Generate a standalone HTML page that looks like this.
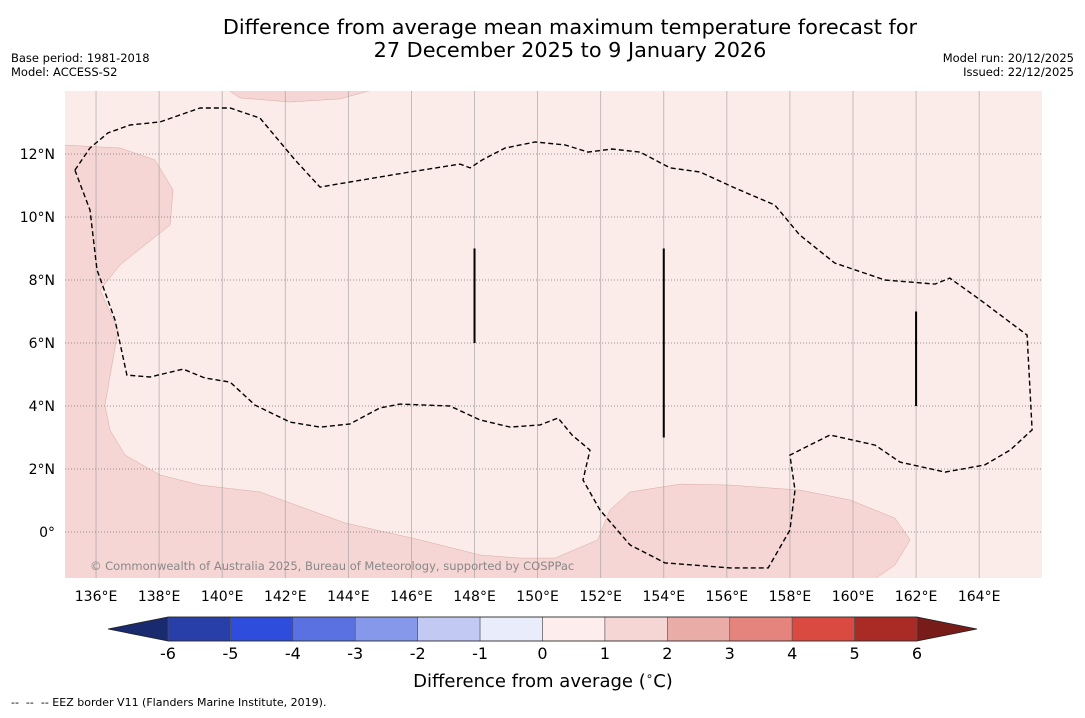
<!DOCTYPE html>
<html><head><meta charset="utf-8">
<style>
html,body{margin:0;padding:0;background:#fff;}
body{width:1085px;height:713px;overflow:hidden;font-family:"Liberation Sans","DejaVu Sans",sans-serif;}
svg text{font-family:"DejaVu Sans","Liberation Sans",sans-serif;}
</style></head>
<body>
<svg id="chart" width="1085" height="713" viewBox="0 0 1085 713" xmlns="http://www.w3.org/2000/svg">
<text x="570" y="34" font-size="20.8" text-anchor="middle" fill="#000">Difference from average mean maximum temperature forecast for</text>
<text x="570" y="57" font-size="20.8" text-anchor="middle" fill="#000">27 December 2025 to 9 January 2026</text>
<text x="11" y="62" font-size="11.5">Base period: 1981-2018</text>
<text x="11" y="76" font-size="11.5">Model: ACCESS-S2</text>
<text x="1074" y="62" font-size="11.5" text-anchor="end">Model run: 20/12/2025</text>
<text x="1074" y="76" font-size="11.5" text-anchor="end">Issued: 22/12/2025</text>
<defs><clipPath id="mapclip"><rect x="65" y="91" width="977" height="487"/></clipPath></defs>
<g id="map" clip-path="url(#mapclip)"></g>
<g id="axes"></g>
<g id="cbar"></g>
<text x="543" y="687" font-size="18" text-anchor="middle">Difference from average (<tspan font-size="12" dy="-7">∘</tspan><tspan dy="7">C)</tspan></text>
<text x="11" y="706" font-size="11" xml:space="preserve">--  --  -- EEZ border V11 (Flanders Marine Institute, 2019).</text>
</svg>
<script>
const lonTicks=[136,138,140,142,144,146,148,150,152,154,156,158,160,162,164];
const latTicks=[12,10,8,6,4,2,0];
const contourLon=[135.33,135.81,136.03,136.6,136.98,137.71,138.76,139.45,140.25,141.04,142.15,143.1,144.05,145.0,145.64,147.22,148.17,149.13,150.08,150.65,151.09,151.66,151.44,151.98,152.93,154.04,156.1,157.31,158.0,158.16,158.0,159.27,160.7,161.49,162.92,164.18,164.98,165.68,165.52,164.03,163.07,162.6,161.01,159.42,158.31,157.52,156.26,155.15,154.2,153.25,152.36,151.6,150.87,149.92,148.97,148.24,147.86,147.54,145.95,144.05,143.1,142.31,141.2,140.25,139.3,138.03,137.08,136.38,135.81,135.33];
const contourLat=[11.49,10.22,8.32,6.73,4.98,4.92,5.17,4.89,4.76,4.03,3.49,3.33,3.43,3.94,4.06,4.0,3.56,3.33,3.4,3.62,3.08,2.6,1.65,0.7,-0.41,-0.98,-1.14,-1.14,0.06,1.33,2.44,3.08,2.76,2.22,1.9,2.13,2.6,3.24,6.25,7.37,8.06,7.87,8.0,8.54,9.43,10.38,10.92,11.43,11.56,12.06,12.16,12.06,12.29,12.38,12.19,11.81,11.56,11.68,11.43,11.11,10.95,11.81,13.14,13.46,13.46,13.02,12.92,12.67,12.19,11.49];
const shadeLon=[134.86,136.76,137.87,138.44,138.35,137.55,136.76,136.13,136.7,136.28,136.44,136.92,138.03,139.3,141.2,143.89,146.27,148.17,149.44,150.55,151.91,152.29,152.93,154.52,156.1,158.32,159.9,161.33,161.81,161.33,160.54,134.86];
const shadeLat=[12.29,12.19,11.81,10.86,9.75,9.11,8.48,7.68,6.41,4.03,3.24,2.44,1.81,1.49,1.27,0.29,-0.25,-0.73,-0.83,-0.83,-0.25,0.7,1.27,1.52,1.49,1.33,1.02,0.44,-0.25,-1.05,-1.6,-1.6];
const blobLon=[140.09,140.56,142.15,143.73,145.0,145.0,140.09];
const blobLat=[14.1,13.78,13.65,13.75,14.1,14.2,14.2];
const barLon=[148,154,162];
const barLatTop=[9,9,7];
const barLatBot=[6,3,4];
const cbarLevels=[-6,-5,-4,-3,-2,-1,0,1,2,3,4,5,6];
const cbarColors=["#283ea8","#2e4ddd","#5a72e1","#8598ea","#c2c9f3","#e9ecfa","#fdeeed","#f5d6d4","#eaaca6","#e5847c","#da4a40","#aa2b26"];

const NS="http://www.w3.org/2000/svg";
const x0=64.5,pxLon=31.54,y0=91,pxLat=31.5;
function xs(lon){return x0+(lon-135)*pxLon;}
function ys(lat){return y0+(14-lat)*pxLat;}
function mk(t,a,p){const e=document.createElementNS(NS,t);for(const k in a)e.setAttribute(k,a[k]);p.appendChild(e);return e;}
function pts(lo,la){return lo.map((v,i)=>xs(v).toFixed(1)+","+ys(la[i]).toFixed(1)).join(" ");}
const map=document.getElementById("map"),axes=document.getElementById("axes"),cb=document.getElementById("cbar");

let bg=mk("rect",{x:65,y:91,width:977,height:487,fill:"#fbebe9"},map);


let sh=mk("polygon",{points:pts(shadeLon,shadeLat),fill:"#f5d6d4",stroke:"#d9a9a5","stroke-width":0.5},map);


let bl=mk("polygon",{points:pts(blobLon,blobLat),fill:"#f5d6d4",stroke:"#d9a9a5","stroke-width":0.5},map);



lonTicks.forEach(l=>{
  let g=mk("line",{x1:xs(l),x2:xs(l),y1:91,y2:578,stroke:"#999","stroke-width":0.8,"stroke-opacity":0.7},map);
  
  
});
latTicks.forEach(l=>{
  let g=mk("line",{x1:65,x2:1042,y1:ys(l),y2:ys(l),stroke:"#777","stroke-width":0.8,"stroke-dasharray":"1,2"},map);
  
  
});
let ct=mk("polyline",{points:pts(contourLon,contourLat),fill:"none",stroke:"#000","stroke-width":1.4,"stroke-dasharray":"5,3"},map);


barLon.forEach((l,i)=>{
  let b=mk("line",{x1:xs(l),x2:xs(l),y1:ys(barLatTop[i]),y2:ys(barLatBot[i]),stroke:"#000","stroke-width":2},map);
  
  
});
let cp=mk("text",{x:90,y:570,"font-size":11.5,fill:"#888"},map);
cp.textContent="© Commonwealth of Australia 2025, Bureau of Meteorology, supported by COSPPac";



lonTicks.forEach(l=>{
  let t=mk("text",{x:xs(l),y:601,"font-size":14,"text-anchor":"middle"},axes);
  t.textContent=l+"°E";
  
  
});
latTicks.forEach(l=>{
  let t=mk("text",{x:55,y:ys(l)+5,"font-size":14,"text-anchor":"end"},axes);
  t.textContent=l===0?"0°":l+"°N";
  
  
});

const cx0=168,cx1=917,cy=617,ch=24;
function cxs(v){return cx0+(v+6)/12*(cx1-cx0);}
let lt=mk("polygon",{points:`108,${cy+ch/2} ${cxs(-6)},${cy} ${cxs(-6)},${cy+ch}`,fill:"#1a2a6e"},cb);


let rt=mk("polygon",{points:`977,${cy+ch/2} ${cxs(6)},${cy} ${cxs(6)},${cy+ch}`,fill:"#781c19"},cb);


cbarColors.forEach((c,i)=>{
  let r=mk("rect",{x:cxs(cbarLevels[i]),y:cy,width:cxs(cbarLevels[i+1])-cxs(cbarLevels[i]),height:ch,fill:c,stroke:"#555","stroke-width":0.6},cb);
  
  
});
let ol=mk("polygon",{points:`108,${cy+ch/2} ${cxs(-6)},${cy} ${cxs(6)},${cy} 977,${cy+ch/2} ${cxs(6)},${cy+ch} ${cxs(-6)},${cy+ch}`,fill:"none",stroke:"#222","stroke-width":0.8},cb);


cbarLevels.forEach(v=>{
  let t=mk("text",{x:cxs(v),y:659,"font-size":16,"text-anchor":"middle"},cb);
  t.textContent=v;
  
  
});
</script>
</body></html>
